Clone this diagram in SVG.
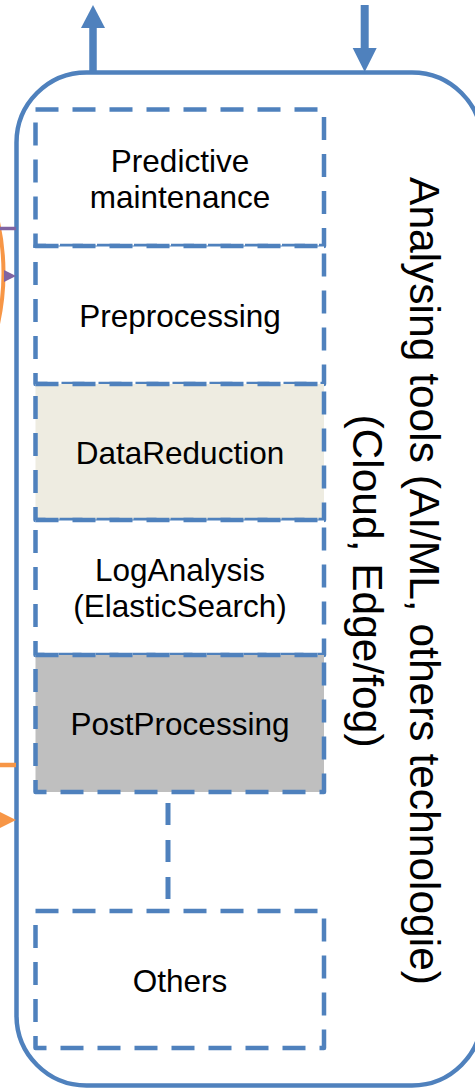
<svg xmlns="http://www.w3.org/2000/svg" width="475" height="1088" viewBox="0 0 475 1088">
<style>
.box{stroke:#4F81BD;stroke-width:4.5;stroke-dasharray:23 14;stroke-linejoin:round}
.lbl{font-family:"Liberation Sans",Arial,sans-serif;font-size:31.5px;fill:#000;text-anchor:middle}
.big{font-family:"Liberation Sans",Arial,sans-serif;font-size:42.5px;fill:#000;text-anchor:middle}
.thin{stroke:#4F81BD;stroke-width:1.2;fill:none}
</style>
<rect width="475" height="1088" fill="#fff"/>
<g id="container">
<rect x="16.5" y="72.5" width="465.5" height="1013" rx="70" ry="70" fill="#fff" stroke="#4F81BD" stroke-width="4.5"/>
<g transform="translate(410,581) rotate(90)">
<text class="big" x="0" y="0">Analysing tools (AI/ML, others technologie)</text>
<text class="big" x="0" y="57">(Cloud, Edge/fog)</text>
</g>
</g>
<g id="predictive">
<rect class="box" x="35.5" y="109.5" width="288.5" height="136.5" fill="#fff"/>
<text class="lbl" x="180" y="172">Predictive</text>
<text class="lbl" x="180" y="208">maintenance</text>
</g>
<g id="preprocessing">
<rect class="box" x="35.5" y="246" width="288.5" height="138" fill="#fff"/>
<line class="thin" x1="35.5" y1="246" x2="324" y2="246"/>
<text class="lbl" x="180" y="327">Preprocessing</text>
</g>
<g id="datareduction">
<rect class="box" x="35.5" y="384" width="288.5" height="136" fill="#EEECE1"/>
<text class="lbl" x="180" y="464">DataReduction</text>
</g>
<g id="loganalysis">
<rect class="box" x="35.5" y="520" width="288.5" height="135" fill="#fff"/>
<line class="thin" x1="35.5" y1="520" x2="324" y2="520"/>
<text class="lbl" x="180" y="581">LogAnalysis</text>
<text class="lbl" x="180" y="617">(ElasticSearch)</text>
</g>
<g id="postprocessing">
<rect class="box" x="35.5" y="655" width="288.5" height="137" fill="#BFBFBF"/>
<text class="lbl" x="180" y="735">PostProcessing</text>
</g>
<g id="others">
<rect class="box" x="35.5" y="911" width="288.5" height="137" fill="#fff"/>
<text class="lbl" x="180" y="992">Others</text>
</g>
<g id="connectors">
<line x1="168" y1="803" x2="168" y2="900" stroke="#4F81BD" stroke-width="5" stroke-dasharray="22 15"/>
<line x1="93" y1="72" x2="93" y2="26" stroke="#4F81BD" stroke-width="7.5"/>
<polygon points="81,28 105,28 93,5" fill="#4F81BD"/>
<line x1="364.7" y1="5" x2="364.7" y2="50" stroke="#4F81BD" stroke-width="8"/>
<polygon points="352.7,48 376.7,48 364.7,72" fill="#4F81BD"/>
<path d="M-2,222 Q9,273 -2,324" fill="none" stroke="#F79646" stroke-width="4"/>
<line x1="0" y1="228.5" x2="16" y2="228.5" stroke="#8064A2" stroke-width="3.5"/>
<polygon points="4,270 16,276 4,282" fill="#8064A2"/>
<line x1="0" y1="765" x2="16" y2="765" stroke="#F79646" stroke-width="4.5"/>
<polygon points="0,812 16,820 0,828" fill="#F79646"/>
</g>
</svg>
